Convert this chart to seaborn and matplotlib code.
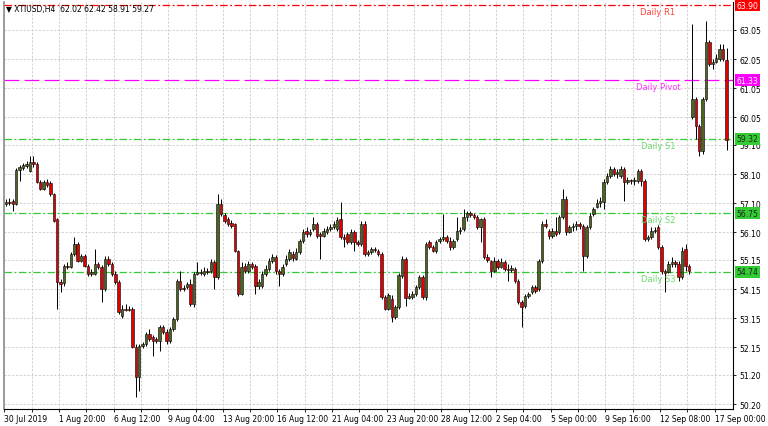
import numpy as np
import pandas as pd
import seaborn as sns
import matplotlib.pyplot as plt
from matplotlib.transforms import blended_transform_factory, ScaledTranslation

# XTIUSD H4, 30 Jul - 17 Sep 2019
symbol = "XTIUSD,H4"

opens = [57.07, 57.14, 57.17, 57.07, 58.24, 58.31, 58.38, 58.20, 58.51, 58.45,
         57.83, 57.59, 57.83, 57.79, 57.41, 56.56, 54.39, 54.35, 54.94, 54.91,
         55.35, 55.70, 55.11, 55.28, 54.94, 54.67, 54.67, 55.01, 54.91, 54.15,
         55.18, 55.01, 54.67, 54.39, 53.22, 53.46, 53.46, 53.46, 52.16, 51.13,
         52.19, 52.26, 52.60, 52.50, 52.43, 52.36, 52.84, 52.67, 52.36, 52.77,
         53.12, 54.42, 54.18, 54.22, 54.32, 53.63, 54.67, 54.70, 54.67, 54.77,
         54.77, 55.08, 54.56, 57.07, 56.69, 56.56, 56.42, 56.38, 55.46, 53.98,
         54.94, 54.77, 55.01, 54.94, 54.25, 54.25, 54.67, 54.84, 55.11, 55.25,
         54.77, 54.67, 55.01, 55.18, 55.35, 55.18, 55.42, 55.80, 56.14, 56.04,
         56.21, 56.38, 56.04, 55.97, 56.11, 56.21, 56.28, 56.21, 56.56, 55.94,
         56.04, 55.76, 56.11, 55.76, 55.70, 56.38, 55.35, 55.42, 55.52, 55.46,
         55.35, 53.87, 53.46, 53.80, 53.19, 53.53, 54.60, 55.18, 53.84, 53.87,
         53.98, 54.22, 54.56, 53.87, 55.76, 55.59, 55.46, 55.80, 55.87, 55.94,
         55.80, 55.59, 55.87, 56.14, 56.21, 56.62, 56.76, 56.69, 56.62, 56.28,
         56.56, 55.25, 55.11, 54.77, 55.11, 54.91, 55.08, 54.84, 54.80, 54.84,
         54.42, 53.70, 53.56, 53.91, 54.05, 54.22, 54.15, 55.11, 56.38, 56.14,
         55.97, 56.14, 56.11, 56.62, 57.24, 56.11, 56.28, 56.31, 56.38, 56.31,
         55.28, 56.28, 56.73, 56.97, 57.11, 57.14, 57.83, 58.03, 58.27, 58.10,
         58.03, 58.27, 57.83, 57.90, 57.86, 57.86, 58.20, 57.86, 55.87, 55.94,
         56.14, 56.28, 55.59, 54.77, 54.73, 55.01, 55.08, 55.01, 54.56, 55.52,
         54.94, 60.06, 60.68, 59.75, 58.89, 60.68, 62.63, 61.88, 61.95, 62.05,
         62.40, 62.02]
highs = [57.24, 57.27, 57.24, 58.30, 58.41, 58.48, 58.54, 58.72, 58.72, 58.51,
         57.90, 57.90, 57.93, 57.86, 57.45, 56.59, 54.49, 55.01, 55.08, 55.42,
         55.94, 55.76, 55.35, 55.35, 55.01, 54.84, 55.52, 55.08, 54.98, 55.28,
         55.28, 55.08, 54.77, 54.46, 53.60, 53.63, 53.56, 53.53, 52.26, 52.26,
         52.33, 52.67, 52.77, 52.57, 52.50, 52.91, 52.91, 52.77, 52.84, 53.19,
         54.49, 54.77, 54.29, 54.39, 54.49, 54.73, 55.08, 54.84, 54.91, 54.87,
         55.18, 55.15, 57.41, 57.24, 56.76, 56.62, 56.52, 56.42, 55.49, 55.08,
         55.04, 55.11, 55.08, 55.01, 54.49, 54.77, 54.98, 55.21, 55.35, 55.32,
         54.84, 55.01, 55.32, 55.52, 55.46, 55.56, 55.87, 56.21, 56.28, 56.21,
         56.62, 56.45, 56.11, 56.24, 56.31, 56.38, 56.49, 56.62, 57.14, 56.04,
         56.11, 56.21, 56.18, 55.83, 56.49, 56.49, 55.49, 55.59, 55.59, 55.52,
         55.42, 53.94, 54.01, 53.94, 53.60, 54.70, 55.28, 55.25, 54.01, 54.08,
         54.29, 54.63, 54.63, 55.76, 55.83, 55.66, 55.83, 55.94, 56.73, 56.01,
         55.94, 55.87, 56.62, 56.28, 56.90, 56.83, 56.83, 56.76, 56.69, 56.59,
         56.62, 55.35, 55.15, 55.25, 55.18, 55.21, 55.15, 55.01, 54.98, 54.91,
         54.49, 53.77, 53.98, 54.05, 54.29, 54.29, 55.18, 56.49, 56.56, 56.21,
         56.24, 56.62, 56.69, 57.59, 57.35, 56.35, 56.42, 56.49, 56.45, 56.38,
         56.35, 56.76, 56.97, 57.24, 57.31, 57.93, 58.13, 58.38, 58.34, 58.27,
         58.38, 58.34, 58.00, 57.93, 58.00, 58.27, 58.27, 57.93, 56.01, 56.28,
         56.28, 56.35, 55.66, 54.84, 55.11, 55.25, 55.15, 55.11, 55.59, 55.70,
         55.01, 63.26, 60.75, 59.82, 60.75, 63.36, 62.71, 62.05, 62.22, 62.57,
         62.57, 62.42]
lows = [57.00, 57.04, 56.83, 57.04, 57.86, 58.24, 58.31, 58.17, 58.34, 57.79,
        57.55, 57.55, 57.66, 57.35, 56.45, 53.46, 54.05, 54.25, 54.84, 54.87,
        55.28, 55.08, 55.08, 54.91, 54.60, 54.60, 54.63, 54.84, 53.70, 54.08,
        54.94, 54.60, 54.32, 53.29, 53.15, 53.39, 53.39, 52.12, 50.44, 50.64,
        52.12, 52.19, 52.36, 51.85, 52.30, 52.02, 52.60, 52.26, 52.30, 52.70,
        53.05, 54.08, 54.08, 54.15, 53.56, 53.53, 54.63, 54.63, 54.60, 54.67,
        54.70, 54.15, 54.49, 56.66, 56.42, 56.31, 56.24, 55.42, 53.91, 53.94,
        54.70, 54.70, 54.84, 53.98, 54.15, 54.18, 54.60, 54.77, 55.04, 54.67,
        54.25, 54.60, 54.94, 55.11, 55.11, 55.15, 55.35, 55.73, 55.94, 55.97,
        56.14, 55.90, 55.18, 55.94, 56.04, 56.14, 56.21, 56.14, 55.87, 55.59,
        55.70, 55.70, 55.46, 55.63, 55.63, 55.28, 55.28, 55.35, 55.42, 55.28,
        53.80, 53.43, 53.43, 53.02, 53.12, 53.46, 54.53, 53.56, 53.80, 53.80,
        53.91, 54.15, 53.80, 53.77, 55.52, 55.42, 55.39, 55.73, 55.80, 55.73,
        55.49, 55.52, 55.80, 56.04, 56.14, 56.49, 56.62, 56.56, 56.21, 55.76,
        55.18, 55.08, 54.56, 54.73, 54.84, 54.87, 54.77, 54.42, 54.73, 54.35,
        53.63, 52.84, 53.49, 53.84, 53.98, 54.01, 54.08, 55.04, 56.24, 55.87,
        55.90, 55.97, 56.04, 56.56, 56.00, 56.07, 56.14, 56.18, 56.21, 54.77,
        55.21, 56.21, 56.66, 56.93, 56.97, 56.90, 57.76, 57.96, 58.03, 57.96,
        57.96, 57.17, 57.76, 57.76, 57.73, 57.79, 57.69, 55.80, 55.80, 55.87,
        56.07, 55.52, 54.67, 54.05, 54.70, 54.91, 54.91, 54.42, 54.49, 54.77,
        54.67, 59.99, 59.30, 58.72, 58.79, 60.61, 61.81, 61.71, 61.91, 61.98,
        61.98, 58.91]
closes = [57.14, 57.11, 57.07, 58.24, 58.34, 58.41, 58.45, 58.51, 58.45, 57.83,
          57.59, 57.83, 57.73, 57.41, 56.49, 54.39, 54.32, 54.94, 54.91, 55.35,
          55.70, 55.11, 55.28, 54.94, 54.67, 54.73, 55.01, 54.91, 54.15, 55.18,
          55.01, 54.67, 54.39, 53.36, 53.46, 53.44, 53.43, 52.16, 51.13, 52.19,
          52.26, 52.60, 52.43, 52.36, 52.36, 52.84, 52.67, 52.36, 52.77, 53.12,
          54.42, 54.15, 54.15, 54.32, 53.63, 54.67, 54.73, 54.73, 54.77, 54.73,
          55.08, 54.56, 57.07, 56.73, 56.49, 56.38, 56.31, 55.46, 53.98, 54.91,
          54.77, 55.01, 54.91, 54.25, 54.39, 54.67, 54.84, 55.11, 55.25, 54.77,
          54.67, 54.91, 55.18, 55.42, 55.21, 55.42, 55.80, 56.11, 56.04, 56.11,
          56.38, 55.97, 55.97, 56.14, 56.21, 56.28, 56.38, 56.52, 55.94, 55.87,
          55.76, 56.11, 55.76, 55.70, 56.38, 55.35, 55.42, 55.52, 55.49, 55.35,
          53.87, 53.46, 53.94, 53.19, 53.53, 54.63, 55.18, 53.84, 53.91, 53.98,
          54.22, 54.56, 53.87, 55.70, 55.59, 55.46, 55.76, 55.87, 55.94, 55.80,
          55.59, 55.80, 56.14, 56.18, 56.62, 56.76, 56.69, 56.62, 56.28, 56.56,
          55.25, 55.15, 54.77, 55.11, 54.91, 55.08, 54.84, 54.80, 54.87, 54.42,
          53.70, 53.53, 53.91, 53.98, 54.22, 54.08, 55.11, 56.38, 56.31, 55.97,
          56.14, 56.04, 56.62, 57.24, 56.11, 56.28, 56.31, 56.38, 56.31, 55.28,
          56.28, 56.66, 56.90, 57.11, 57.17, 57.83, 58.03, 58.27, 58.10, 58.17,
          58.27, 57.83, 57.90, 57.86, 57.90, 58.20, 57.86, 55.87, 55.94, 56.14,
          56.18, 55.59, 54.77, 54.70, 55.01, 55.08, 55.01, 54.56, 55.46, 54.94,
          54.77, 60.68, 59.75, 58.89, 60.68, 62.63, 61.88, 61.95, 62.09, 62.40,
          62.05, 59.27]

time_labels = ["30 Jul 2019", "1 Aug 20:00", "6 Aug 12:00", "9 Aug 04:00",
               "13 Aug 20:00", "16 Aug 12:00", "21 Aug 04:00", "23 Aug 20:00",
               "28 Aug 12:00", "2 Sep 04:00", "5 Sep 00:00", "9 Sep 16:00",
               "12 Sep 08:00", "17 Sep 00:00"]
price_ticks = [63.05, 62.05, 61.05, 60.05, 59.10, 58.10, 57.10, 56.10,
               55.15, 54.15, 53.15, 52.15, 51.20, 50.20]

level_names = ["Daily R1", "Daily Pivot", "Daily S1", "Daily S2", "Daily S3"]
level_values = [63.90, 61.33, 59.32, 56.75, 54.74]

# styles
bull_color = "#4f6423"
bear_color = "#e00000"
line_colors = ["#ff0000", "#ff00ff", "#32cd32", "#32cd32", "#32cd32"]
text_colors = ["#ff4040", "#ff33ff", "#6fd86f", "#6fd86f", "#6fd86f"]
box_text = ["white", "white", "#202020", "#202020", "#202020"]
dashdot = (0, (6, 2, 1.5, 2))
line_styles = [dashdot, (0, (12, 4)), dashdot, dashdot, dashdot]

sns.set_theme(style="whitegrid")
plt.rcParams["font.family"] = ["DejaVu Sans"]
plt.rcParams["font.size"] = 5.5

df = pd.DataFrame({"open": opens, "high": highs, "low": lows, "close": closes})
df["bar"] = np.arange(len(df))
df["up"] = df["close"] >= df["open"]

fig = plt.figure(figsize=(7.68, 4.27), dpi=100)
ax = fig.add_axes([4 / 768, 17 / 427, 729 / 768, 407 / 427])
ax.set_facecolor("white")

# candles: wick then body
ax.vlines(df["bar"], df["low"], df["high"], colors="black", linewidth=0.7, zorder=3)
body = (df["close"] - df["open"]).abs().clip(lower=0.012)
bottom = df[["open", "close"]].min(axis=1)
ax.bar(df["bar"], body, bottom=bottom, width=0.72,
       color=np.where(df["up"], bull_color, bear_color),
       edgecolor="black", linewidth=0.4, zorder=4)

ax.set_xlim(-0.59, 212.9)
ax.set_ylim(50.03, 64.01)

# time axis: label every 16 bars, grid every 8
ax.set_xticks(np.arange(0, len(df), 16)[:len(time_labels)] - 0.5)
ax.set_xticklabels(time_labels, ha="left")
ax.set_xticks(np.arange(8, len(df), 16) - 0.5, minor=True)
shift = ScaledTranslation(-2 / 100, 0, fig.dpi_scale_trans)
for lab in ax.get_xticklabels():
    lab.set_transform(lab.get_transform() + shift)

ax.yaxis.tick_right()
ax.set_yticks(price_ticks)
ax.set_yticklabels([f"{v:.2f}" for v in price_ticks])

ax.grid(True, which="both", color="#c6c6c6", linestyle=(0, (3, 2)), linewidth=0.55, zorder=0)
ax.set_axisbelow(True)
ax.tick_params(axis="x", which="both", direction="out", length=2, width=0.6,
               pad=1.5, colors="black", bottom=True, labelsize=5.5)
ax.tick_params(axis="y", which="major", direction="out", length=2.5, width=0.6,
               pad=2, colors="black", right=True, left=False, labelsize=5.5)

for side in ["right", "bottom"]:
    ax.spines[side].set_color("black")
    ax.spines[side].set_linewidth(0.8)
ax.spines["left"].set_color("#8c8c8c")
ax.spines["left"].set_linewidth(1.2)
ax.spines["top"].set_visible(False)

# daily pivot levels with their labels and price boxes
blend = blended_transform_factory(ax.transAxes, ax.transData)
for name, val, lc, tc, bt, ls in zip(level_names, level_values, line_colors,
                                     text_colors, box_text, line_styles):
    ax.axhline(val, color=lc, linewidth=0.9, linestyle=ls, zorder=2)
    ax.annotate(name, xy=(0.897, val), xycoords=blend, xytext=(0, -1.5),
                textcoords="offset points", ha="center", va="top",
                color=tc, fontsize=6, zorder=5)
    ax.annotate(f"{val:.2f}", xy=(1, val), xycoords=blend, xytext=(2.5, 0),
                textcoords="offset points", ha="left", va="center",
                color=bt, fontsize=5.5, annotation_clip=False, zorder=6,
                bbox=dict(boxstyle="square,pad=0.2", fc=lc, ec="none"))

header = (f"\u25bc {symbol}  {opens[-1]:.2f} {highs[-1]:.2f} "
          f"{lows[-1]:.2f} {closes[-1]:.2f}")
ax.text(0.003, 0.995, header, transform=ax.transAxes, ha="left", va="top",
        fontsize=5.5, color="black", zorder=7)

fig.savefig("out.png", dpi=100)
